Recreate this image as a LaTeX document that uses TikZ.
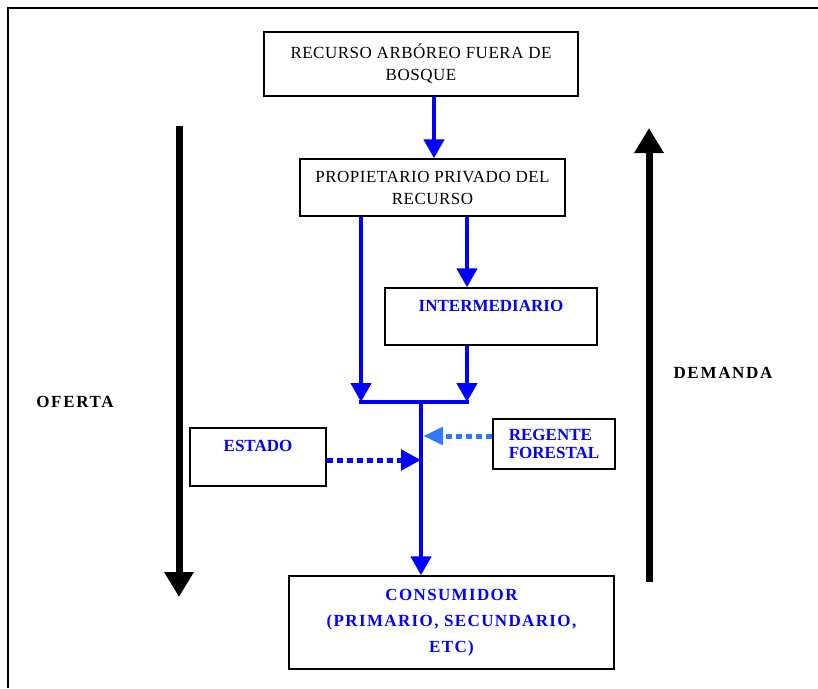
\documentclass[tikz,border=0pt]{standalone}
\usepackage{fontspec}
\setmainfont{Liberation Serif}
\newfontfamily\negra[LetterSpace=3]{Liberation Serif}
\newfontfamily\ancha[LetterSpace=10]{Liberation Serif}
\newfontfamily\media[LetterSpace=8]{Liberation Serif}
\usetikzlibrary{arrows.meta}
\definecolor{azul}{RGB}{0,0,255}
\definecolor{celeste}{RGB}{50,120,250}

\begin{document}
\begin{tikzpicture}[x=1pt,y=-1pt,
	caja/.style={draw,line width=1.4pt,align=center,inner sep=0pt,font=\fontsize{17}{22}\negra},
	azl/.style={caja,text=azul,font=\fontsize{17}{21}\selectfont\bfseries},
	flujo/.style={azul,line width=4.5pt,-{Triangle[width=20pt,length=19pt]}},
	punteo/.style={line width=5pt,dash pattern=on 6pt off 4pt,-{Triangle[width=20pt,length=20pt]}},
	grueso/.style={line width=7pt,-{Triangle[width=28pt,length=25pt]}},
	rotulo/.style={font=\fontsize{17}{20}\ancha\bfseries}]
	\useasboundingbox (0,0) rectangle (818,688);
	\draw[line width=1.6pt] (8,688) -- (8,8) -- (818,8);
	
	\node[caja,minimum width=314pt,minimum height=64pt] (rec) at (421,64) {RECURSO ARB\'OREO FUERA DE\\BOSQUE};
	\node[caja,minimum width=265pt,minimum height=57pt] (prop) at (432.5,187.5) {PROPIETARIO PRIVADO DEL\\RECURSO};
	\node[azl,minimum width=212pt,minimum height=57pt] (inter) at (491,316.5) {INTERMEDIARIO\\[-7pt]\strut};
	\node[azl,minimum width=136pt,minimum height=58pt] (estado) at (258,457) {ESTADO\\[-5pt]\strut};
	\node[azl,align=left,minimum width=122pt,minimum height=50pt,font=\fontsize{17}{18}\selectfont\bfseries] (regente) at (554,444) {REGENTE\\FORESTAL};
	\node[azl,minimum width=325pt,minimum height=93pt,font=\fontsize{17}{26}\media\bfseries] (cons) at (451.5,622.5) {CONSUMIDOR\\(PRIMARIO, SECUNDARIO,\\ETC)};
	
	\node[rotulo] (oferta) at (75,402) {OFERTA};
	\node[rotulo] (demanda) at (723,373) {DEMANDA};
	
	\coordinate (jl) at (361,402);
	\coordinate (jr) at (467,402);
	\coordinate (jm) at (421,402);
	\coordinate (of) at (179,126);
	\coordinate (de) at (649,582);
	
	\draw[flujo] (rec.south -| 434,0) -- (prop.north -| 434,0);
	\draw[flujo] (prop.south -| jl) -- (jl);
	\draw[flujo] (prop.south -| jr) -- (inter.north -| jr);
	\draw[flujo] (inter.south -| jr) -- (jr);
	\draw[azul,line width=4.5pt] ([xshift=-2pt]jl) -- ([xshift=2pt]jr);
	\draw[flujo] (jm) -- (cons.north -| jm);
	\draw[punteo,azul] ([yshift=-3pt]estado.east) -- ([yshift=-3pt]estado.east -| jm);
	\draw[punteo,celeste,-{Triangle[width=17pt,length=20pt]}] ([yshift=8pt]regente.west) -- ([yshift=8pt,xshift=2pt]regente.west -| jm);
	
	\draw[grueso] (of) -- (of |- 0,597);
	\draw[grueso] (de) -- (de |- 0,128);
\end{tikzpicture}
\end{document}
